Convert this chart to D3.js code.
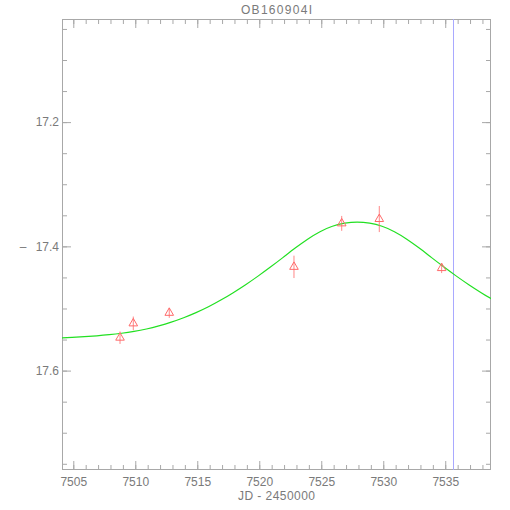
<!DOCTYPE html>
<html>
<head>
<meta charset="utf-8">
<script src="https://cdn.jsdelivr.net/npm/d3@7"></script>
<style>
  html, body { margin: 0; padding: 0; background: #ffffff; }
  svg { display: block; }
  text { font-family: "Liberation Sans", Arial, sans-serif; fill: #7a7a7a; }
</style>
</head>
<body>
<svg id="chart" width="510" height="510"></svg>
<script>
// ---- Data ----
const title = "OB160904I";
const xTitle = "JD - 2450000";
const yTitle = "–";

// observations: JD-2450000, magnitude, error
const obsJD  = [7508.77, 7509.84, 7512.74, 7522.80, 7526.65, 7529.68, 7534.71];
const obsMag = [17.547, 17.524, 17.507, 17.433, 17.363, 17.356, 17.435];
const obsErr = [0.010, 0.011, 0.008, 0.018, 0.012, 0.021, 0.008];

// model curve (one value per day)
const modelJD  = [7503.9, 7504.9, 7505.9, 7506.9, 7507.9, 7508.9, 7509.9, 7510.9, 7511.9, 7512.9,
                  7513.9, 7514.9, 7515.9, 7516.9, 7517.9, 7518.9, 7519.9, 7520.9, 7521.9, 7522.9,
                  7523.9, 7524.9, 7525.9, 7526.9, 7527.9, 7528.9, 7529.9, 7530.9, 7531.9, 7532.9,
                  7533.9, 7534.9, 7535.9, 7536.9, 7537.9, 7538.9];
const modelMag = [17.5474, 17.5465, 17.5454, 17.5440, 17.5422, 17.5399, 17.5369, 17.5330, 17.5280, 17.5220,
                  17.5149, 17.5067, 17.4973, 17.4865, 17.4745, 17.4617, 17.4479, 17.4333, 17.4181, 17.4027,
                  17.3884, 17.3764, 17.3677, 17.3627, 17.3610, 17.3627, 17.3677, 17.3764, 17.3884, 17.4027,
                  17.4181, 17.4333, 17.4479, 17.4617, 17.4745, 17.4865];

// vertical marker
const markerJD = [7535.65];

// axis ranges and ticks
const xDomain = [7504.09, 7538.69];
const yDomain = [17.034, 17.760];   // magnitudes, reversed (bright at top)
const xMajorTicks = [7505, 7510, 7515, 7520, 7525, 7530, 7535];
const xMinorTicks = d3.range(7505, 7539, 1);
const yMajorTicks = [17.2, 17.4, 17.6];
const yMinorTicks = [17.05, 17.1, 17.15, 17.2, 17.25, 17.3, 17.35, 17.4, 17.45, 17.5, 17.55, 17.6, 17.65, 17.7, 17.75];

// ---- Layout ----
const L = 62, R = 491, T = 19, B = 470;
const axisColor = "#a8a8a8";
const svg = d3.select("#chart");

const x = d3.scaleLinear().domain(xDomain).range([L, R]);
const y = d3.scaleLinear().domain(yDomain).range([T, B]);

// clip
svg.append("defs").append("clipPath").attr("id", "plotclip")
  .append("rect").attr("x", L).attr("y", T).attr("width", R - L).attr("height", B - T);

function styleAxis(g) {
  g.select(".domain").remove();
  g.selectAll(".tick line").attr("stroke", axisColor).attr("stroke-width", 1);
  g.selectAll(".tick text").attr("fill", "#7a7a7a").style("font-size", "12px")
    .style("font-family", '"Liberation Sans", Arial, sans-serif');
}

// bottom axis: minor + major
svg.append("g").attr("transform", `translate(0,${B})`)
  .call(d3.axisBottom(x).tickValues(xMinorTicks).tickSize(-5).tickFormat(""))
  .call(styleAxis);
svg.append("g").attr("transform", `translate(0,${B})`)
  .call(d3.axisBottom(x).tickValues(xMajorTicks).tickSize(-9).tickPadding(7).tickFormat(d3.format("d")))
  .call(styleAxis);
// top axis
svg.append("g").attr("transform", `translate(0,${T})`)
  .call(d3.axisTop(x).tickValues(xMinorTicks).tickSize(-5).tickFormat(""))
  .call(styleAxis);
svg.append("g").attr("transform", `translate(0,${T})`)
  .call(d3.axisTop(x).tickValues(xMajorTicks).tickSize(-9).tickFormat(""))
  .call(styleAxis);
// left axis
svg.append("g").attr("transform", `translate(${L},0)`)
  .call(d3.axisLeft(y).tickValues(yMinorTicks).tickSize(-5).tickFormat(""))
  .call(styleAxis);
svg.append("g").attr("transform", `translate(${L},0)`)
  .call(d3.axisLeft(y).tickValues(yMajorTicks).tickSize(-9).tickPadding(3).tickFormat(d3.format(".1f")))
  .call(styleAxis);
// right axis
svg.append("g").attr("transform", `translate(${R},0)`)
  .call(d3.axisRight(y).tickValues(yMinorTicks).tickSize(-5).tickFormat(""))
  .call(styleAxis);
svg.append("g").attr("transform", `translate(${R},0)`)
  .call(d3.axisRight(y).tickValues(yMajorTicks).tickSize(-9).tickFormat(""))
  .call(styleAxis);

// frame
svg.append("rect").attr("x", L + 0.5).attr("y", T + 0.5)
  .attr("width", R - L - 1).attr("height", B - T - 1)
  .attr("fill", "none").attr("stroke", axisColor).attr("stroke-width", 1);

const plot = svg.append("g").attr("clip-path", "url(#plotclip)");

// vertical marker line
plot.selectAll("line.marker").data(markerJD).enter().append("line")
  .attr("class", "marker")
  .attr("x1", d => Math.round(x(d)) + 0.5).attr("x2", d => Math.round(x(d)) + 0.5)
  .attr("y1", T).attr("y2", B)
  .attr("stroke", "#a9a9ff").attr("stroke-width", 1);

// model curve
const model = modelJD.map((d, i) => [d, modelMag[i]]);
plot.append("path").datum(model)
  .attr("d", d3.line().x(d => x(d[0])).y(d => y(d[1])).curve(d3.curveNatural))
  .attr("fill", "none").attr("stroke", "#22e022").attr("stroke-width", 1.2);

// observations
const obs = obsJD.map((d, i) => ({ jd: d, mag: obsMag[i], err: obsErr[i] }));
const red = "#ff6a6a";
plot.selectAll("line.err").data(obs).enter().append("line")
  .attr("class", "err")
  .attr("x1", d => x(d.jd)).attr("x2", d => x(d.jd))
  .attr("y1", d => y(d.mag - d.err)).attr("y2", d => y(d.mag + d.err))
  .attr("stroke", red).attr("stroke-width", 1).attr("opacity", 0.8);
const tri = d3.symbol().type(d3.symbolTriangle).size(32);
plot.selectAll("path.obs").data(obs).enter().append("path")
  .attr("class", "obs")
  .attr("transform", d => `translate(${x(d.jd)},${y(d.mag)})`)
  .attr("d", tri)
  .attr("fill", "none").attr("stroke", red).attr("stroke-width", 1);

// texts
svg.append("text").attr("x", (L + R) / 2).attr("y", 14)
  .attr("text-anchor", "middle").style("font-size", "12px")
  .attr("textLength", 71).attr("lengthAdjust", "spacing")
  .text(title);
svg.append("text").attr("x", (L + R) / 2).attr("y", 500)
  .attr("text-anchor", "middle").style("font-size", "12px")
  .attr("textLength", 77).attr("lengthAdjust", "spacing")
  .text(xTitle);
svg.append("text").attr("x", 23).attr("y", y(17.4)).attr("dy", "0.35em")
  .attr("text-anchor", "middle").style("font-size", "12px")
  .text(yTitle);
</script>
</body>
</html>
